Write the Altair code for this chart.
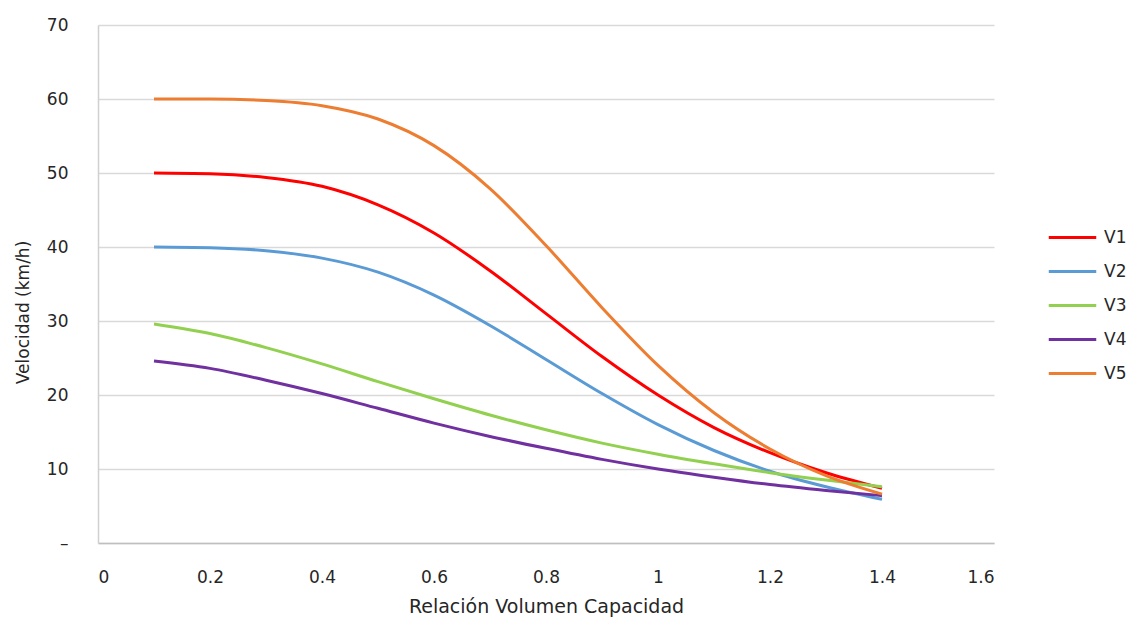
import altair as alt
import pandas as pd

x_vals = [0.1, 0.2, 0.3, 0.4, 0.5, 0.6, 0.7, 0.8, 0.9, 1.0, 1.1, 1.2, 1.3, 1.4]
v1 = [50.0, 49.9, 49.4, 48.2, 45.7, 41.9, 36.8, 31.0, 25.2, 20.0, 15.6, 12.2, 9.5, 7.4]
v2 = [40.0, 39.9, 39.5, 38.5, 36.6, 33.5, 29.4, 24.8, 20.2, 16.0, 12.5, 9.7, 7.6, 5.9]
v3 = [29.6, 28.3, 26.4, 24.2, 21.8, 19.5, 17.3, 15.3, 13.5, 12.0, 10.7, 9.5, 8.5, 7.6]
v4 = [24.6, 23.6, 22.0, 20.2, 18.2, 16.2, 14.4, 12.8, 11.3, 10.0, 8.9, 7.9, 7.1, 6.4]
v5 = [60.0, 60.0, 59.8, 59.1, 57.3, 53.7, 47.9, 40.2, 31.8, 24.0, 17.6, 12.7, 9.1, 6.6]

series_names = ["V1", "V2", "V3", "V4", "V5"]
series_colors = ["#FF0000", "#5B9BD5", "#92D050", "#7030A0", "#ED7D31"]
x_ticks = [0, 0.2, 0.4, 0.6, 0.8, 1, 1.2, 1.4, 1.6]
y_ticks = [0, 10, 20, 30, 40, 50, 60, 70]

rows = []
for name, vals in zip(series_names, [v1, v2, v3, v4, v5]):
    for xv, yv in zip(x_vals, vals):
        rows.append({"x": xv, "y": yv, "serie": name})
df = pd.DataFrame(rows)

FONT = "DejaVu Sans"

chart = (
    alt.Chart(df)
    .mark_line(strokeWidth=3, interpolate="monotone")
    .encode(
        x=alt.X(
            "x:Q",
            scale=alt.Scale(domain=[0, 1.6], nice=False),
            axis=alt.Axis(
                values=x_ticks,
                format="~g",
                title="Relación Volumen Capacidad",
                grid=False,
                ticks=False,
                domain=True,
                domainColor="#bfbfbf",
                domainWidth=1.5,
                labelPadding=26,
                titlePadding=12,
                titleFontSize=19,
            ),
        ),
        y=alt.Y(
            "y:Q",
            scale=alt.Scale(domain=[0, 70], nice=False),
            axis=alt.Axis(
                values=y_ticks,
                labelExpr="datum.value == 0 ? '–' : datum.label",
                title="Velocidad (km/h)",
                grid=True,
                gridColor="#d9d9d9",
                gridWidth=1.5,
                ticks=False,
                domain=True,
                domainColor="#d0d0d0",
                domainWidth=1.5,
                labelPadding=30,
                titleX=-66,
                titleY=287,
                titleFontSize=17,
            ),
        ),
        color=alt.Color(
            "serie:N",
            scale=alt.Scale(domain=series_names, range=series_colors),
            legend=alt.Legend(
                title=None,
                orient="none",
                legendX=949,
                legendY=187,
                symbolType="stroke",
                symbolSize=2256,
                symbolStrokeWidth=3,
                rowPadding=0,
                labelOffset=6,
                padding=0,
            ),
        ),
    )
    .properties(
        width=896,
        height=518,
        autosize=alt.AutoSizeParams(type="none"),
        padding={"left": 90, "top": 17, "right": 132, "bottom": 77},
    )
    .configure_view(stroke=None)
    .configure_axis(
        labelFont=FONT,
        titleFont=FONT,
        labelFontSize=17,
        labelColor="#262626",
        titleColor="#262626",
        titleFontWeight="normal",
    )
    .configure_legend(labelFont=FONT, labelFontSize=17, labelColor="#262626")
)

chart.save("out.html", embed_options={"renderer": "svg", "actions": False})
